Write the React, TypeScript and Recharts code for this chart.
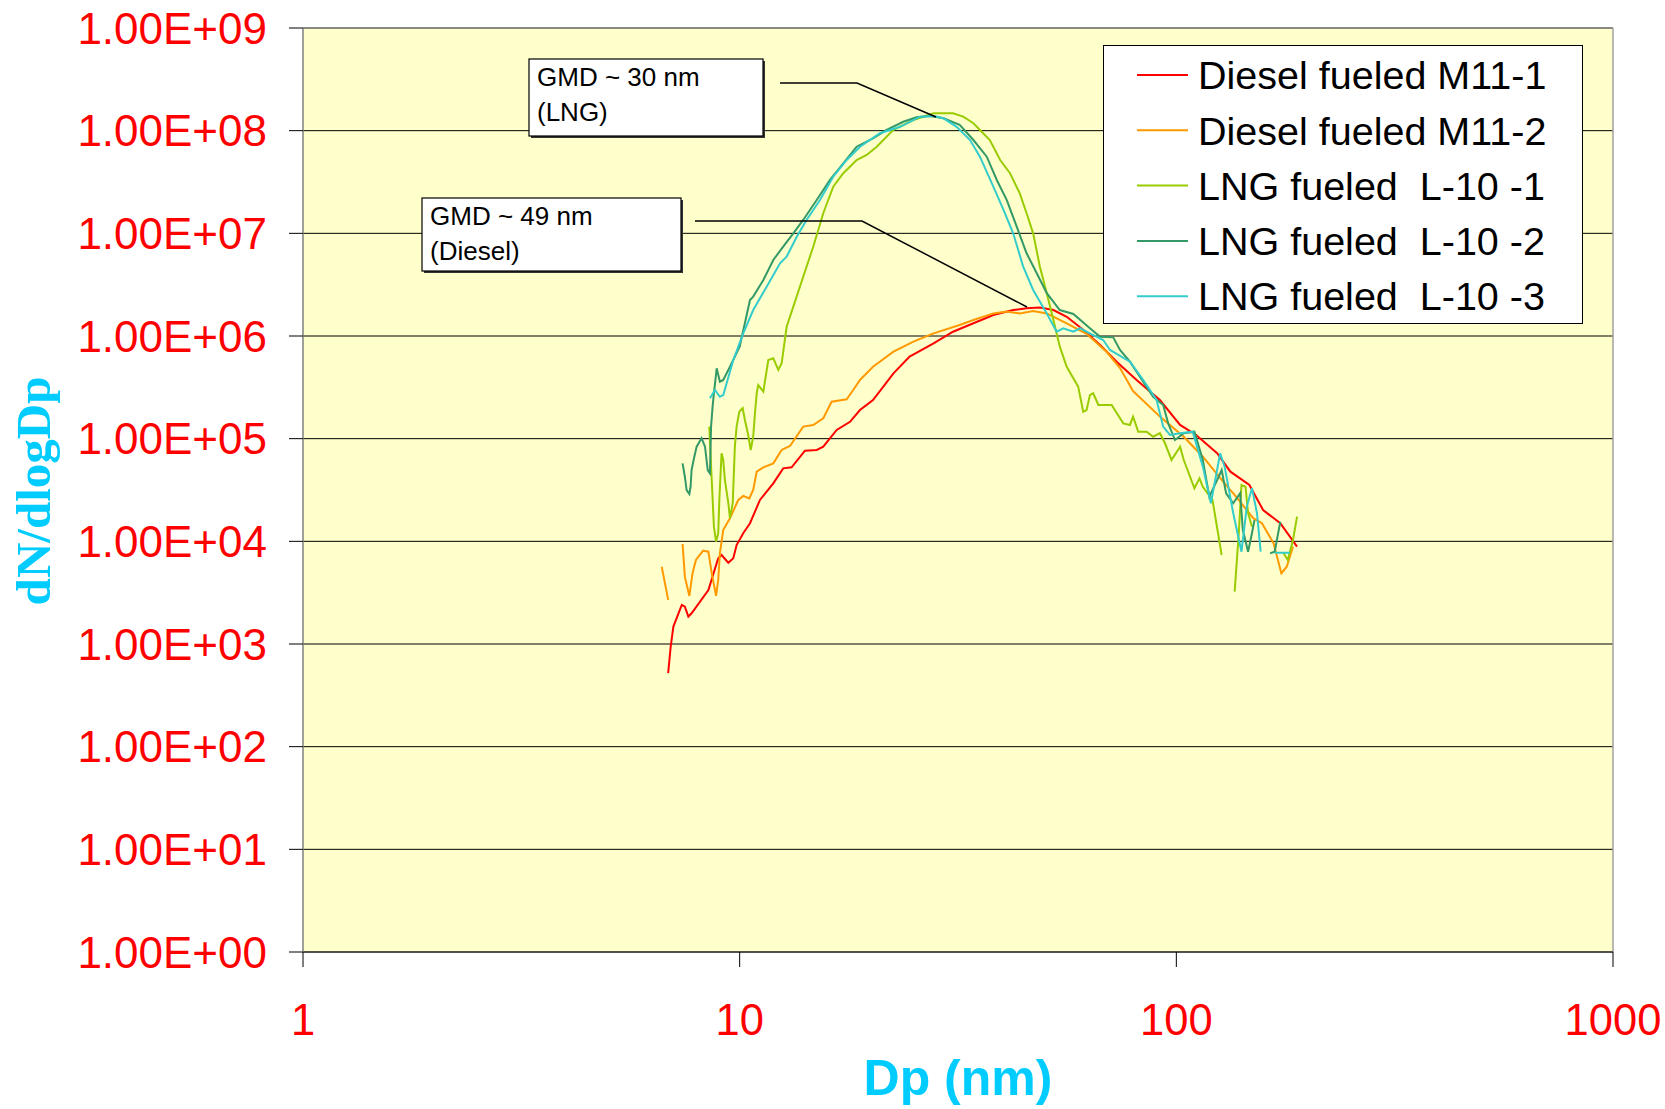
import {
  LineChart,
  Line,
  XAxis,
  YAxis,
  CartesianGrid,
  Legend,
  ReferenceLine,
} from "recharts";

// Particle size distributions (Dp in nm, dN/dlogDp), one pair of arrays per run.
// A null value leaves a gap in the trace.
const m11Run1Dp = [6.86, 6.95, 7.05, 7.37, 7.49, 7.63, 7.76, 8.48, 8.93, 9.09, 9.42, 9.67, 9.84, 10.19, 10.56, 10.84, 11.13, 11.94, 12.58, 13.15, 14.11, 15.01, 15.54, 16.68, 17.89, 18.86, 20.2, 22.5, 24.5, 27.8, 30.8, 34.3, 38.1, 42.3, 45.4, 48.7, 52.3, 56.1, 61.2, 66.9, 73.0, 81.1, 91.7, 102, 111, 124, 133, 147, 158, 173, 189];
const m11Run1N = [520, 940, 1480, 2400, 2310, 1850, 1990, 3360, 6840, 7360, 6190, 6840, 9200, 11970, 15000, 19450, 25300, 36700, 51400, 52600, 76400, 77600, 83600, 121600, 146000, 190000, 238000, 433000, 629000, 849000, 1.1e6, 1.33e6, 1.6e6, 1.79e6, 1.86e6, 1.89e6, 1.79e6, 1.54e6, 1.15e6, 817000, 562000, 373000, 238000, 136000, 108600, 72100, 47700, 35400, 20200, 15000, 8870];

const m11Run2Dp = [6.63, 6.86, 7.1, 7.4, 7.49, 7.67, 7.8, 7.94, 8.25, 8.48, 8.63, 8.83, 8.93, 9.01, 9.17, 9.5, 9.93, 10.19, 10.52, 10.74, 10.94, 11.33, 11.94, 12.48, 13.04, 13.98, 14.74, 15.54, 16.24, 17.58, 18.2, 18.86, 20.2, 22.5, 25.0, 27.8, 31.9, 34.3, 38.1, 40.9, 43.8, 47.0, 50.5, 56.1, 62.3, 69.3, 74.3, 79.6, 91.7, 104, 115, 128, 137, 150, 157, 167, 174, 179, 185];
const m11Run2N = [5660, 2690, null, 9420, 4530, 2940, 4890, 6580, 8110, 7930, 4890, 2940, 4200, 7650, 12900, 16800, 25300, 27700, 26200, 31600, 47700, 52600, 57500, 77600, 84900, 131000, 136000, 158000, 229000, 242000, 298000, 373000, 502000, 703000, 881000, 1.06e6, 1.28e6, 1.43e6, 1.66e6, 1.73e6, 1.66e6, 1.75e6, 1.66e6, 1.33e6, 1.05e6, 698000, 488000, 291000, 164000, 104500, 66700, 38100, 27200, 16800, 15000, 9570, 4890, 5660, 8870];

const l10Run1Dp = [8.52, 8.63, 8.73, 8.83, 8.93, 8.99, 9.09, 9.17, 9.25, 9.42, 9.5, 9.64, 9.75, 9.84, 9.98, 10.16, 10.28, 10.46, 10.6, 10.74, 10.84, 10.94, 11.03, 11.33, 11.63, 11.94, 12.26, 12.48, 12.81, 13.27, 13.98, 14.74, 15.54, 16.38, 17.27, 18.53, 19.54, 20.6, 22.5, 25.0, 27.8, 30.8, 32.5, 34.3, 36.1, 37.4, 39.5, 41.6, 43.8, 45.4, 47.0, 48.7, 50.5, 52.3, 54.1, 56.1, 59.6, 61.2, 62.3, 63.4, 64.5, 66.3, 71.1, 75.6, 78.3, 79.6, 81.8, 85.5, 88.5, 91.7, 94.2, 97.5, 102, 104, 110, 113, 115, 121, 127, 131, 136, 139, 141, 144, 146, 149, 160, 176, 180, 185, 189];
const l10Run1N = [131000, 39600, 13900, 9930, 11970, 27200, 72100, 62000, 39600, 23500, 16800, 23500, 83600, 131000, 183000, 198000, 152000, 108600, 77600, 104500, 177000, 277000, 333000, 287000, 584000, 607000, 467000, 542000, 1.23e6, 1.93e6, 3.78e6, 7.41e6, 1.57e7, 2.85e7, 3.85e7, 5.18e7, 5.8e7, 6.98e7, 1.02e8, 1.27e8, 1.48e8, 1.48e8, 1.37e8, 1.18e8, 9.43e7, 8.11e7, 5.18e7, 3.85e7, 2.45e7, 1.57e7, 1.0e7, 4.73e6, 2.61e6, 1.43e6, 787000, 502000, 321000, 183000, 190000, 266000, 277000, 213000, 213000, 141000, 136000, 164000, 117000, 117000, 104500, 113000, 90200, 62000, 83600, 62000, 32900, 41100, 34000, 25300, 7360, null, 3240, 11970, 35400, 34000, 18800, 13900, null, 7650, 6580, 10300, 17400];

const l10Run2Dp = [7.4, 7.49, 7.56, 7.67, 7.72, 7.76, 7.86, 7.97, 8.18, 8.33, 8.45, 8.55, 8.6, 8.67, 8.72, 8.86, 9.01, 9.17, 9.5, 10.0, 10.56, 10.74, 11.33, 11.94, 12.58, 13.27, 13.98, 15.01, 16.1, 17.27, 18.53, 20.2, 21.7, 23.7, 25.4, 27.3, 29.3, 31.9, 34.3, 36.8, 38.8, 40.9, 43.1, 45.4, 47.9, 50.5, 54.1, 58.1, 63.4, 66.9, 71.7, 74.3, 78.3, 82.5, 88.5, 93.3, 95.8, 99.3, 104, 110, 115, 119, 124, 127, 130, 135, 140, 142, 146, 149, 151, 158, 164, 168, 173];
const l10Run2N = [57500, 42600, 31600, 28900, 34000, 49500, 64400, 83600, 101000, 83600, 49500, 46000, 131000, 205000, 266000, 484000, 359000, 373000, 502000, 787000, 2.24e6, 2.42e6, 3.51e6, 5.5e6, 7.41e6, 1.0e7, 1.35e7, 2.11e7, 3.31e7, 4.81e7, 6.98e7, 8.43e7, 1.02e8, 1.22e8, 1.35e8, 1.39e8, 1.32e8, 1.14e8, 8.11e7, 5.58e7, 3.31e7, 2.11e7, 1.16e7, 6.4e6, 4.08e6, 2.61e6, 1.79e6, 1.64e6, 1.19e6, 985000, 970000, 731000, 562000, 402000, 256000, 213000, 141000, 97000, 113000, 117000, 62000, 27200, 39600, 49500, 29400, 23500, 29400, 12900, 7930, 11970, 16100, null, 7650, 7930, 15500];

const l10Run3Dp = [8.55, 8.78, 9.01, 9.17, 9.67, 10.19, 10.74, 11.53, 12.37, 12.81, 13.51, 14.23, 15.27, 16.38, 17.58, 18.86, 20.95, 23.3, 25.9, 27.8, 29.3, 31.4, 33.7, 35.5, 38.1, 40.2, 42.3, 44.6, 47.0, 50.5, 53.2, 55.1, 58.1, 60.2, 63.4, 68.0, 70.5, 78.3, 84.0, 90.1, 93.3, 96.7, 102, 109, 115, 120, 126, 129, 135, 141, 145, 149, 153, 156, 162, 168, 182];
const l10Run3N = [247000, 298000, 256000, 266000, 584000, 1.06e6, 1.79e6, 3.02e6, 5.11e6, 5.92e6, 9.27e6, 1.35e7, 2.11e7, 3.56e7, 5.18e7, 6.98e7, 9.43e7, 1.09e8, 1.37e8, 1.39e8, 1.32e8, 1.09e8, 8.11e7, 5.58e7, 2.85e7, 1.69e7, 1.0e7, 4.73e6, 2.81e6, 1.66e6, 1.1e6, 1.19e6, 1.1e6, 1.19e6, 1.06e6, 914000, 731000, 562000, 373000, 238000, 131000, 108600, 113000, 117000, 53400, 23500, 72100, 53400, 18800, 7930, 21800, 32900, 18800, 7930, null, 7740, 7740];

const xTicks = [1, 10, 100, 1000];
const yTicks = [1, 10, 100, 1e3, 1e4, 1e5, 1e6, 1e7, 1e8, 1e9];

const toPoints = (dp: number[], n: (number | null)[]) =>
  dp.map((d, i) => ({ dp: d, n: n[i] }));

const series = [
  { name: "Diesel fueled M11-1", color: "#FF0000", data: toPoints(m11Run1Dp, m11Run1N) },
  { name: "Diesel fueled M11-2", color: "#FF9900", data: toPoints(m11Run2Dp, m11Run2N) },
  { name: "LNG fueled  L-10 -1", color: "#99CC00", data: toPoints(l10Run1Dp, l10Run1N) },
  { name: "LNG fueled  L-10 -2", color: "#339966", data: toPoints(l10Run2Dp, l10Run2N) },
  { name: "LNG fueled  L-10 -3", color: "#33CCCC", data: toPoints(l10Run3Dp, l10Run3N) },
];

const SANS = "'Liberation Sans', Arial, sans-serif";
const SERIF = "'Liberation Serif', 'Times New Roman', serif";
const TITLE_COLOR = "#00CCFF";

// Excel-style scientific labels: 1.00E+09
function sci(v: number) {
  const [m, e] = v.toExponential(2).split("e");
  const sign = e[0] === "-" ? "-" : "+";
  return `${m}E${sign}${e.replace(/^[+-]/, "").padStart(2, "0")}`;
}

function LegendBox() {
  const rowH = 55.3;
  return (
    <svg width={480} height={279} style={{ display: "block" }}>
      <rect x={0.5} y={0.5} width={479} height={278} fill="#fff" stroke="#000" />
      {series.map((s, i) => {
        const y = 30 + i * rowH;
        return (
          <g key={s.name}>
            <line x1={34} x2={85} y1={y} y2={y} stroke={s.color} strokeWidth={2} />
            <text
              x={95}
              y={y}
              dy="0.36em"
              fontSize={39.5}
              fontFamily={SANS}
              fill="#000"
              style={{ whiteSpace: "pre" }}
            >
              {s.name}
            </text>
          </g>
        );
      })}
    </svg>
  );
}

function NoteBox({ x, y, w, h, lines }: { x: number; y: number; w: number; h: number; lines: string[] }) {
  return (
    <g>
      <rect x={x + 2} y={y + 2} width={w} height={h} fill="#333" />
      <rect x={x} y={y} width={w} height={h} fill="#fff" stroke="#000" strokeWidth={1.2} />
      {lines.map((t, i) => (
        <text key={t} x={x + 8} y={y + 27 + i * 35} fontSize={26} fontFamily={SANS} fill="#000">
          {t}
        </text>
      ))}
    </g>
  );
}

export default function App() {
  return (
    <div style={{ position: "absolute", left: 0, top: 0, width: 1665, height: 1109, background: "#fff" }}>
      <LineChart width={1665} height={1109} margin={{ top: 28, right: 52, bottom: 37, left: 53 }}>
        <CartesianGrid vertical={false} stroke="#000" fill="#FFFFCC" fillOpacity={1} />
        <XAxis
          dataKey="dp"
          type="number"
          scale="log"
          domain={[1, 1000]}
          ticks={xTicks}
          allowDataOverflow
          height={120}
          tickSize={15}
          tickMargin={37}
          axisLine={{ stroke: "#404040", strokeWidth: 1.5 }}
          tickLine={{ stroke: "#000" }}
          tick={{ fill: "#FF0000", fontSize: 43.5, fontFamily: SANS }}
        />
        <YAxis
          dataKey="n"
          type="number"
          scale="log"
          domain={[1, 1e9]}
          ticks={yTicks}
          allowDataOverflow
          width={250}
          tickSize={14}
          tickMargin={22}
          tickFormatter={sci}
          axisLine={{ stroke: "#808080", strokeWidth: 1.5 }}
          tickLine={{ stroke: "#000" }}
          tick={{ fill: "#FF0000", fontSize: 44, fontFamily: SANS }}
        />
        <ReferenceLine y={1e9} stroke="#8c8c8c" strokeWidth={1.5} />
        <ReferenceLine x={1000} stroke="#a0a0a0" strokeWidth={1.5} />
        {series.map((s) => (
          <Line
            key={s.name}
            data={s.data}
            dataKey="n"
            name={s.name}
            type="linear"
            stroke={s.color}
            strokeWidth={2}
            dot={false}
            activeDot={false}
            connectNulls={false}
            isAnimationActive={false}
          />
        ))}
        <Legend
          layout="vertical"
          align="center"
          verticalAlign="middle"
          wrapperStyle={{ left: 1103, top: 45, width: 480, height: 279 }}
          content={() => <LegendBox />}
        />
      </LineChart>

      <svg
        width={1665}
        height={1109}
        style={{ position: "absolute", left: 0, top: 0, pointerEvents: "none" }}
      >
        {/* axis titles */}
        <text
          x={958}
          y={1095}
          textAnchor="middle"
          fontSize={50}
          fontWeight="bold"
          fontFamily={SANS}
          fill={TITLE_COLOR}
        >
          Dp (nm)
        </text>
        <text
          x={50}
          y={491}
          textAnchor="middle"
          fontSize={49}
          fontWeight="bold"
          fontFamily={SERIF}
          fill={TITLE_COLOR}
          transform="rotate(-90 50 491)"
        >
          dN/dlogDp
        </text>

        {/* GMD callouts */}
        <polyline points="780,83 857,83 936,117" fill="none" stroke="#000" strokeWidth={1.5} />
        <polyline points="695,221 862,221 1027,307" fill="none" stroke="#000" strokeWidth={1.5} />
        <NoteBox x={529} y={59} w={234} h={77} lines={["GMD ~ 30 nm", "(LNG)"]} />
        <NoteBox x={422} y={198} w={259} h={73} lines={["GMD ~ 49 nm", "(Diesel)"]} />
      </svg>
    </div>
  );
}
